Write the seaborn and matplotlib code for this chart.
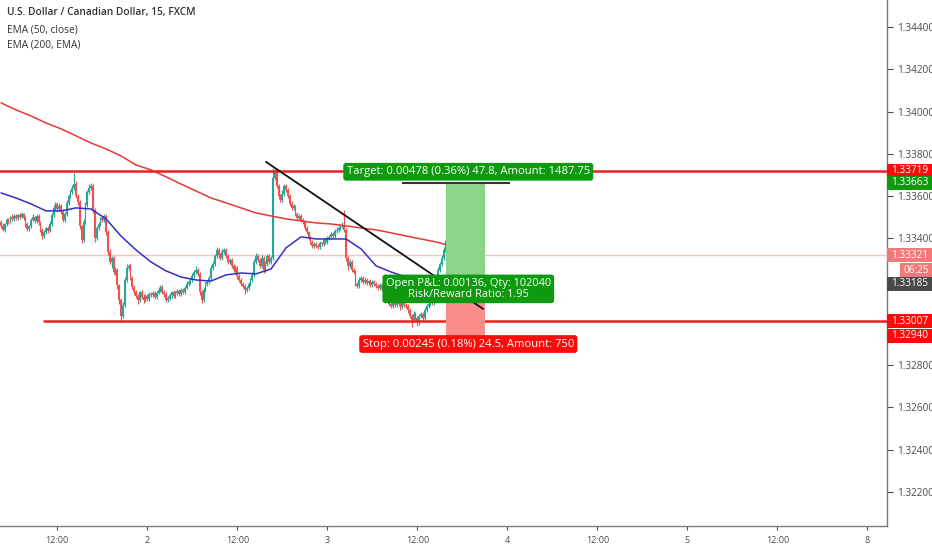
import numpy as np
import pandas as pd
import matplotlib
matplotlib.use("Agg")
import matplotlib.pyplot as plt
from matplotlib.patches import Rectangle
import seaborn as sns

sns.set_style("white")
plt.rcParams['font.family'] = ['Open Sans', 'DejaVu Sans']

# USDCAD 15 min closes, oldest first
closes = [
    1.33459, 1.33440, 1.33468, 1.33487, 1.33477, 1.33501, 1.33492, 1.33506,
    1.33496, 1.33511, 1.33501, 1.33515, 1.33496, 1.33468, 1.33444, 1.33459,
    1.33487, 1.33501, 1.33482, 1.33506, 1.33477, 1.33440, 1.33411, 1.33430,
    1.33449, 1.33435, 1.33468, 1.33511, 1.33544, 1.33563, 1.33539, 1.33553,
    1.33525, 1.33487, 1.33515, 1.33567, 1.33600, 1.33619, 1.33638, 1.33657,
    1.33600, 1.33572, 1.33459, 1.33392, 1.33477, 1.33558, 1.33619, 1.33638,
    1.33648, 1.33534, 1.33402, 1.33449, 1.33468, 1.33496, 1.33487, 1.33506,
    1.33430, 1.33336, 1.33288, 1.33307, 1.33241, 1.33251, 1.33180, 1.33108,
    1.33033, 1.33085, 1.33203, 1.33260, 1.33270, 1.33213, 1.33170, 1.33146,
    1.33127, 1.33108, 1.33146, 1.33123, 1.33108, 1.33127, 1.33113, 1.33137,
    1.33132, 1.33142, 1.33123, 1.33142, 1.33156, 1.33170, 1.33146, 1.33137,
    1.33108, 1.33118, 1.33132, 1.33146, 1.33127, 1.33142, 1.33151, 1.33137,
    1.33156, 1.33146, 1.33165, 1.33184, 1.33194, 1.33203, 1.33222, 1.33241,
    1.33251, 1.33232, 1.33146, 1.33108, 1.33156, 1.33184, 1.33194, 1.33213,
    1.33260, 1.33279, 1.33317, 1.33345, 1.33321, 1.33307, 1.33336, 1.33345,
    1.33317, 1.33288, 1.33298, 1.33270, 1.33251, 1.33260, 1.33222, 1.33203,
    1.33184, 1.33175, 1.33156, 1.33165, 1.33184, 1.33203, 1.33227, 1.33288,
    1.33317, 1.33298, 1.33270, 1.33307, 1.33251, 1.33279, 1.33317, 1.33288,
    1.33307, 1.33686, 1.33714, 1.33648, 1.33600, 1.33581, 1.33610, 1.33648,
    1.33629, 1.33600, 1.33563, 1.33544, 1.33553, 1.33515, 1.33496, 1.33506,
    1.33487, 1.33477, 1.33449, 1.33430, 1.33402, 1.33383, 1.33364, 1.33373,
    1.33364, 1.33359, 1.33378, 1.33373, 1.33392, 1.33383, 1.33402, 1.33407,
    1.33421, 1.33411, 1.33435, 1.33440, 1.33449, 1.33459, 1.33459, 1.33440,
    1.33307, 1.33270, 1.33288, 1.33251, 1.33241, 1.33184, 1.33175, 1.33203,
    1.33213, 1.33194, 1.33203, 1.33189, 1.33198, 1.33180, 1.33194, 1.33184,
    1.33175, 1.33165, 1.33180, 1.33160, 1.33170, 1.33146, 1.33108, 1.33090,
    1.33080, 1.33099, 1.33085, 1.33108, 1.33090, 1.33075, 1.33094, 1.33085,
    1.33080, 1.33061, 1.33033, 1.33014, 1.33042, 1.33023, 1.33004, 1.33033,
    1.33042, 1.33023, 1.33061, 1.33080, 1.33090, 1.33108, 1.33094, 1.33123,
    1.33194, 1.33251, 1.33279, 1.33307, 1.33345, 1.33373, 1.33321,
]
first_open = 1.33477

# wick lengths above / below the body, in points (0.00001)
wick_up = [
    8, 12, 6, 10, 9, 7, 12, 8,   10, 6, 9, 12, 7, 8, 10, 6,
    9, 12, 7, 10, 8, 6, 9, 11,   7, 10, 12, 8, 15, 10, 8, 12,
    9, 7, 10, 14, 12, 10, 16, 53,   12, 8, 10, 6, 14, 12, 10, 18,
    12, 10, 8, 9, 11, 7, 10, 8,   10, 8, 12, 9, 10, 14, 8, 6,
    10, 12, 15, 18, 10, 8, 9, 7,   8, 10, 7, 9, 12, 8, 10, 7,
    9, 7, 10, 8, 12, 9, 7, 10,   8, 10, 9, 7, 11, 8, 10, 9,
    7, 10, 8, 12, 9, 11, 14, 10,   18, 9, 8, 10, 12, 8, 10, 9,
    12, 14, 10, 15, 9, 8, 12, 10,   8, 10, 9, 7, 10, 12, 8, 9,
    10, 8, 7, 9, 10, 8, 12, 14,   12, 10, 9, 14, 8, 12, 10, 9,
    8, 47, 20, 14, 10, 12, 18, 10,   10, 9, 8, 12, 10, 7, 9, 8,
    7, 9, 8, 10, 7, 9, 8, 10,   8, 10, 9, 7, 10, 8, 9, 10,
    9, 8, 10, 12, 9, 10, 18, 75,   10, 8, 12, 9, 10, 7, 9, 12,
    10, 8, 12, 9, 7, 10, 8, 9,   8, 10, 7, 9, 10, 8, 9, 7,
    10, 12, 8, 9, 10, 8, 12, 9,   8, 10, 9, 7, 12, 9, 8, 10,
    9, 8, 12, 10, 9, 11, 8, 12,   14, 12, 10, 12, 15, 18, 29,
]
wick_dn = [
    9, 7, 12, 8, 10, 6, 9, 8,   7, 10, 8, 6, 9, 12, 10, 8,
    8, 6, 10, 9, 12, 10, 14, 9,   10, 8, 7, 9, 8, 10, 12, 9,
    12, 10, 8, 9, 7, 10, 8, 9,   10, 12, 15, 14, 10, 8, 9, 7,
    9, 12, 18, 10, 8, 9, 10, 8,   12, 14, 10, 30, 12, 15, 18, 20,
    29, 12, 8, 10, 9, 12, 10, 14,   10, 18, 9, 8, 12, 10, 9, 8,
    8, 10, 12, 9, 7, 10, 8, 14,   10, 9, 8, 12, 9, 10, 8, 9,
    9, 8, 10, 7, 9, 8, 10, 9,   8, 10, 12, 15, 10, 8, 9, 10,
    9, 8, 10, 9, 12, 10, 8, 9,   10, 9, 8, 12, 9, 10, 12, 9,
    10, 12, 18, 9, 8, 10, 9, 8,   10, 8, 12, 9, 14, 10, 8, 9,
    10, 8, 9, 10, 12, 9, 8, 10,   9, 8, 10, 9, 8, 10, 9, 8,
    8, 10, 9, 8, 10, 9, 8, 10,   9, 8, 10, 9, 8, 10, 9, 8,
    10, 9, 8, 10, 9, 8, 10, 9,   12, 20, 10, 12, 9, 10, 12, 8,
    9, 8, 10, 9, 8, 10, 9, 8,   8, 10, 9, 8, 10, 12, 10, 9,
    10, 9, 12, 8, 10, 12, 9, 10,   10, 12, 9, 33, 12, 10, 20, 12,
    10, 12, 9, 10, 8, 9, 10, 8,   12, 10, 9, 8, 10, 9, 8,
]

# EMA values sampled every 8 candles
ema_idx = list(range(0, 233, 8)) + [238]
ema50 = [
    1.33615, 1.33591, 1.33563, 1.33530, 1.33530, 1.33544, 1.33539, 1.33492,
    1.33411, 1.33345, 1.33288, 1.33246, 1.33217, 1.33203, 1.33198, 1.33227,
    1.33236, 1.33232, 1.33255, 1.33355, 1.33407, 1.33397, 1.33397, 1.33397,
    1.33350, 1.33270, 1.33241, 1.33217, 1.33203, 1.33208, 1.33217,
]
ema200 = [
    1.34041, 1.34008, 1.33979, 1.33946, 1.33918, 1.33885, 1.33851, 1.33823,
    1.33790, 1.33747, 1.33724, 1.33691, 1.33657, 1.33624, 1.33591, 1.33568,
    1.33544, 1.33520, 1.33506, 1.33492, 1.33482, 1.33473, 1.33468, 1.33459,
    1.33449, 1.33440, 1.33426, 1.33411, 1.33397, 1.33383, 1.33369,
]

resistance = 1.33719
support = 1.33007
last_price = 1.33321
entry = 1.33185
target = 1.33663
stop = 1.32940
trend_x = [141.3, 257.1]
trend_y = [1.33762, 1.33066]

price_ticks = [1.322, 1.324, 1.326, 1.328, 1.330, 1.332, 1.334, 1.336, 1.338, 1.340, 1.342, 1.344]
# 1.33000 and 1.33200 sit under the price tags, so their labels are not shown
hidden_ticks = [1.330, 1.332]
time_labels = ['12:00', '2', '12:00', '3', '12:00', '4', '12:00', '5', '12:00', '8']

UP = '#26a69a'
DOWN = '#ef5350'

df = pd.DataFrame({'close': closes})
df['open'] = [first_open] + closes[:-1]
df['high'] = df[['open', 'close']].max(axis=1) + np.array(wick_up) / 1e5
df['low'] = df[['open', 'close']].min(axis=1) - np.array(wick_dn) / 1e5
df['color'] = np.where(df['close'] >= df['open'], UP, DOWN)

fig = plt.figure(figsize=(9.32, 5.5), dpi=100)
ax = fig.add_axes([0, 24 / 550, 887 / 932, 526 / 550])

ax.axhline(last_price, color='#f6c4c4', lw=1, zorder=1)

ax.vlines(df.index, df['low'], df['high'], colors=df['color'], lw=0.85, zorder=2)
body = (df['close'] - df['open']).abs().clip(lower=0.00003)
ax.bar(df.index, body, bottom=df[['open', 'close']].min(axis=1), width=0.85,
       color=df['color'], lw=0, zorder=3)

sns.lineplot(x=ema_idx, y=ema200, color='#e53935', lw=1.1, ax=ax, zorder=4)
sns.lineplot(x=ema_idx, y=ema50, color='#3030c8', lw=1.1, ax=ax, zorder=4)

ax.axhline(resistance, color='#f01e1e', lw=1.8, zorder=5)
ax.hlines(support, 22.2, 480, color='#f01e1e', lw=1.8, zorder=5)
ax.plot(trend_x, trend_y, color='#111111', lw=1.3, zorder=6)

# long position tool
pos_x0, pos_x1 = 237.3, 258.1
ax.add_patch(Rectangle((pos_x0, entry), pos_x1 - pos_x0, target - entry,
                       fc='#8cd48c', ec='none', zorder=5))
ax.add_patch(Rectangle((pos_x0, stop), pos_x1 - pos_x0, entry - stop,
                       fc='#fb8c8c', ec='none', zorder=5))
ax.hlines(target, 213.9, 271.5, color='#333333', lw=1.5, zorder=6)

mid = (pos_x0 + pos_x1) / 2 + 1.5
box = dict(boxstyle='round,pad=0.3,rounding_size=0.25', ec='none')
ax.text(mid, 1.33715, 'Target: 0.00478 (0.36%) 47.8, Amount: 1487.75', ha='center',
        va='center', fontsize=8.1, color='white', zorder=8, bbox=dict(box, fc='#0e9a0e'))
ax.text(mid, 1.33161, 'Open P&L: 0.00136, Qty: 102040\nRisk/Reward Ratio: 1.95',
        ha='center', va='center', fontsize=7.9, color='white', zorder=8, linespacing=1.0,
        bbox=dict(box, fc='#0e9a0e'))
ax.text(mid, 1.32900, 'Stop: 0.00245 (0.18%) 24.5, Amount: 750', ha='center',
        va='center', fontsize=8.1, color='white', zorder=8, bbox=dict(box, fc='#ff0a0a'))

ax.set_xlim(-0.533, 472.5)
ax.set_ylim(1.32039, 1.345277)

ax.yaxis.tick_right()
ax.set_yticks(price_ticks)
ax.set_yticklabels(['' if p in hidden_ticks else f'{p:.5f}' for p in price_ticks])
ax.set_xticks(np.arange(len(time_labels)) * 48 + 30)
ax.set_xticklabels(time_labels)
ax.tick_params(axis='y', length=4, width=0.8, pad=3, labelsize=7.2, colors='#4a4a4a', right=True)
ax.tick_params(axis='x', length=3, width=0.8, pad=4, labelsize=6.5, colors='#4a4a4a', bottom=True)
for s in ['top', 'left']:
    ax.spines[s].set_visible(False)
for s in ['right', 'bottom']:
    ax.spines[s].set_color('#7a7a7a')
    ax.spines[s].set_linewidth(1)
ax.set_xlabel('')
ax.set_ylabel('')

# price tags on the scale: boxes 14 px tall, drawn in axes-x / data-y space
px = (1.345277 - 1.32039) / 526
tag_h = 14 * px
tag_w = 45 / 887


def price_tag(y, text, fc, x0=0.0, w=tag_w):
    ax.add_patch(Rectangle((1 + x0, y - tag_h / 2), w, tag_h, fc=fc, ec='none',
                           transform=ax.get_yaxis_transform(), clip_on=False, zorder=10))
    ax.text(1 + x0 + w / 2, y, text, transform=ax.get_yaxis_transform(), ha='center',
            va='center', fontsize=7.2, color='white', clip_on=False, zorder=11)


price_tag(resistance, '1.33719', '#ff0a0a')
price_tag(target, '1.33663', '#0e9a0e')
price_tag(last_price, '1.33321', '#f07a7a')
price_tag(last_price - 15 * px, '06:25', '#f07a7a', x0=13 / 887, w=32 / 887)
price_tag(entry, '1.33185', '#4a4a4a')
price_tag(support, '1.33007', '#ff0a0a')
price_tag(stop, '1.32940', '#ff0a0a')

fig.text(7 / 932, 1 - 13 / 550, 'U.S. Dollar / Canadian Dollar, 15, FXCM', fontsize=7.3,
         fontweight='semibold', color='#333333', va='center')
fig.text(7 / 932, 1 - 30 / 550, 'EMA (50, close)', fontsize=7.3, color='#333333', va='center')
fig.text(7 / 932, 1 - 45 / 550, 'EMA (200, EMA)', fontsize=7.3, color='#333333', va='center')

fig.savefig('out.png', dpi=100)
